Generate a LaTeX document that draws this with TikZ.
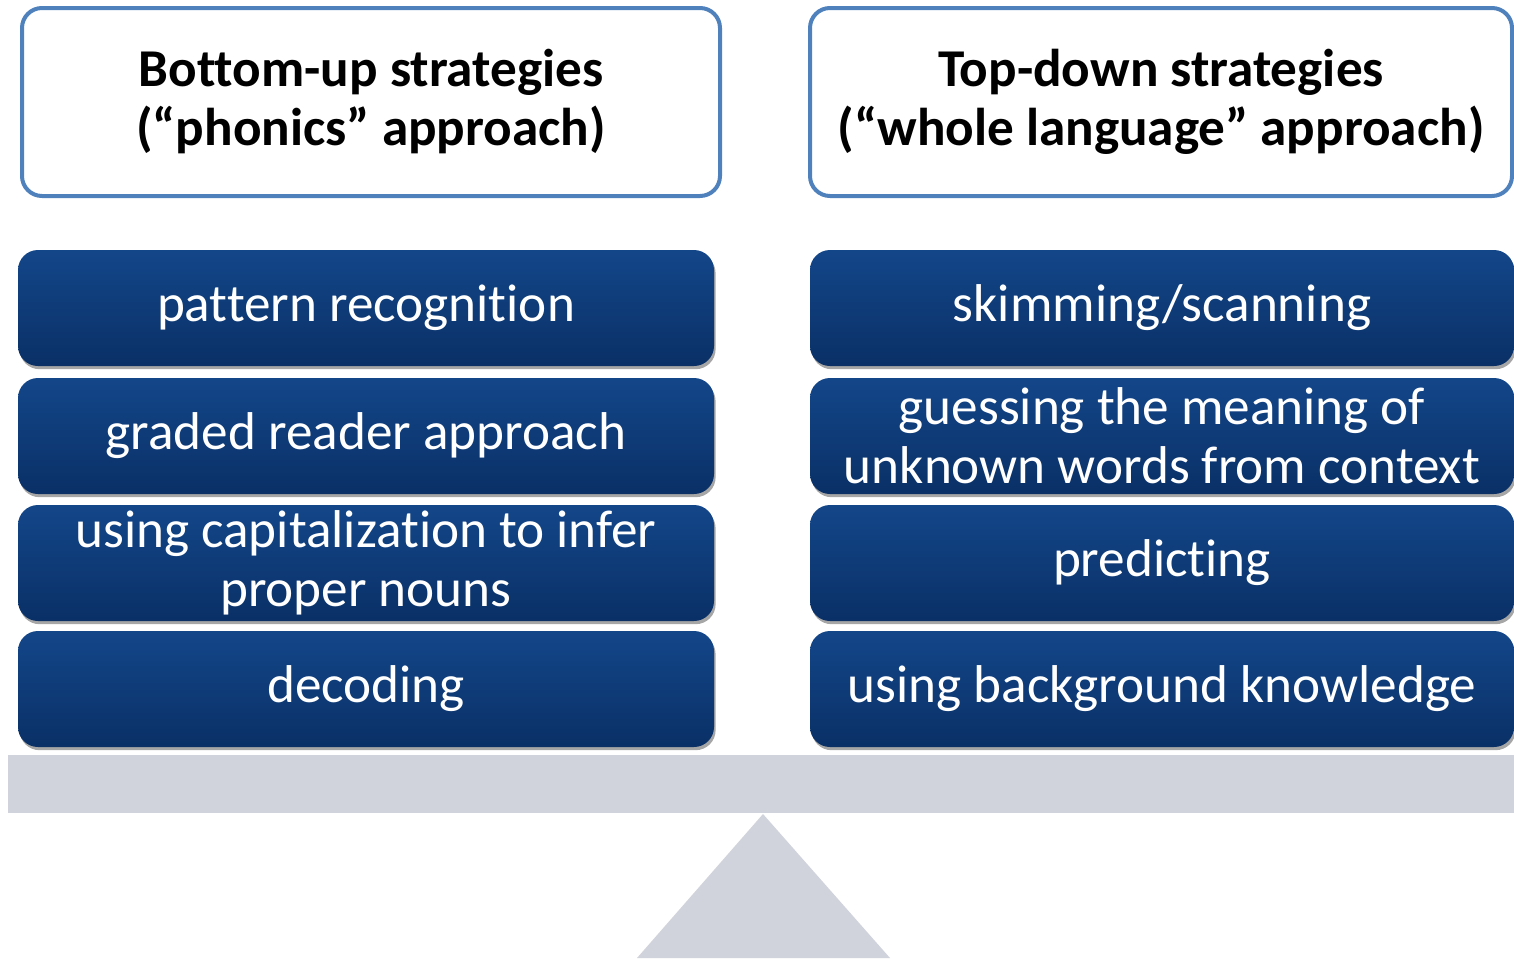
\documentclass[tikz,border=0pt]{standalone}
\usepackage{fontspec}
\setmainfont{Carlito}[RawFeature={-liga;-calt;-dlig;-clig}]
\usetikzlibrary{shadows}
\definecolor{hdrblue}{HTML}{4F81BD}
\definecolor{boxtop}{HTML}{134689}
\definecolor{boxbot}{HTML}{0A3066}
\definecolor{beam}{HTML}{D0D3DB}
\tikzset{
  header/.style={draw=hdrblue, line width=2pt, fill=white, rounded corners=10pt,
    minimum width=#1, minimum height=94pt, align=center, inner sep=0pt,
    font=\fontsize{26.6}{29.5}\selectfont\bfseries},
  header/.default={349pt},
  itembox/.style={rounded corners=10pt, top color=boxtop, bottom color=boxbot,
    draw=none, minimum width=#1, minimum height=58pt, align=center, inner sep=0pt,
    text=white, font=\fontsize{26.6}{29.5}\selectfont,
    drop shadow={shadow xshift=0.8pt, shadow yshift=-1.6pt, opacity=0.35, fill=black}},
  itembox/.default={348pt},
}
\begin{document}
\begin{tikzpicture}[x=0.5pt,y=-0.5pt]
\useasboundingbox (0,0) rectangle (1514,958);
\clip (0,0) rectangle (1514,958);
% beam and fulcrum
\fill[beam] (8,755) rectangle (1514,813);
\fill[beam] (763,814) -- (890,958) -- (637,958) -- cycle;
% headers
\node[header={349pt}] (hl) at (371,102) {Bottom-up strategies\\(“phonics” approach)};
\node[header={351pt}] (hr) at (1161,102) {Top-down strategies\\(“whole language” approach)};
% left items
\node[itembox={348pt}] (l1) at (366,308) {pattern recognition};
\node[itembox={348pt}] (l2) at (366,436) {graded reader approach};
\node[itembox={348pt}] (l3) at (366,563) {using capitalization to infer\\proper nouns};
\node[itembox={348pt}] (l4) at (366,689) {decoding};
% right items
\node[itembox={352pt}] (r1) at (1162,308) {skimming/scanning};
\node[itembox={352pt}] (r2) at (1162,436) {guessing the meaning of\\unknown words from context};
\node[itembox={352pt}] (r3) at (1162,563) {predicting};
\node[itembox={352pt}] (r4) at (1162,689) {using background knowledge};
\end{tikzpicture}
\end{document}
